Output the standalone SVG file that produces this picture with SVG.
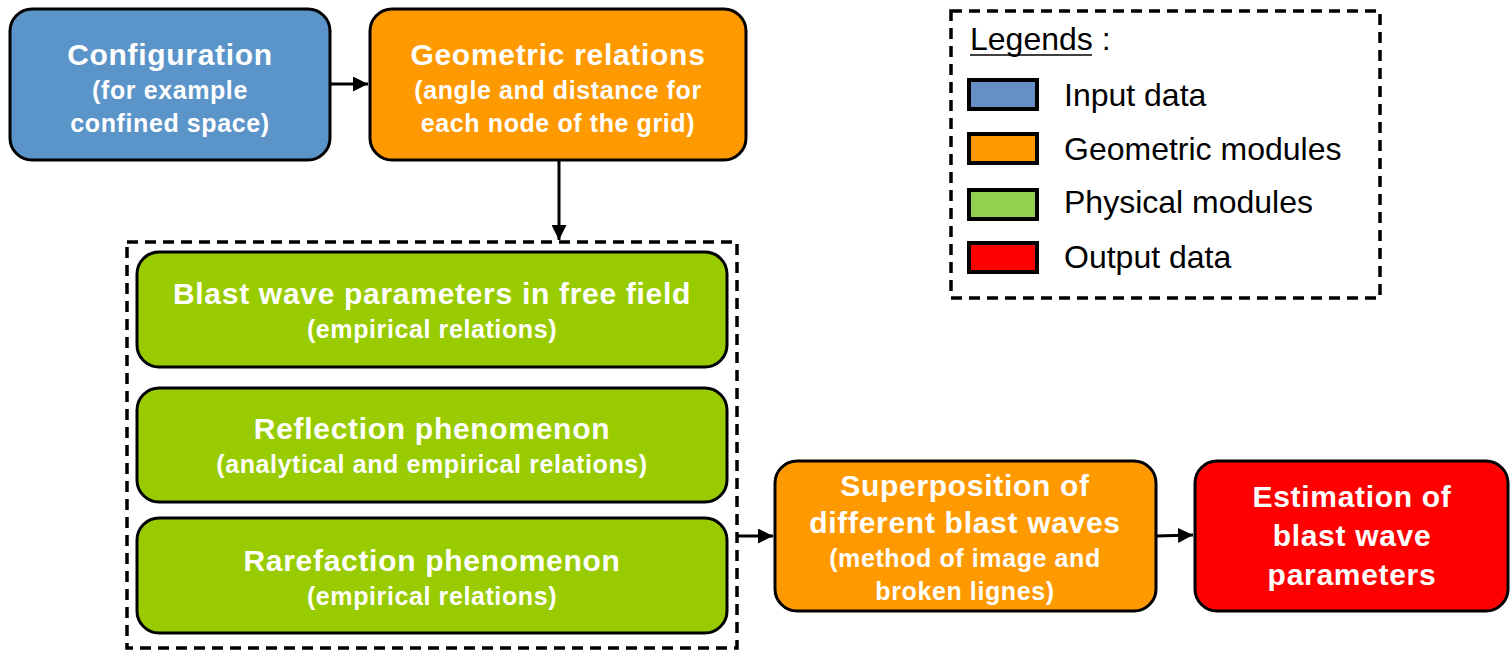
<svg xmlns="http://www.w3.org/2000/svg" width="1510" height="651" viewBox="0 0 1510 651">
<defs>
<marker id="arr" viewBox="0 0 10 10" refX="10" refY="5" markerWidth="5" markerHeight="5" orient="auto" markerUnits="strokeWidth">
<path d="M0,0 L10,5 L0,10 z" fill="#000"/>
</marker>
<style>
.box{stroke:#000;stroke-width:3}
.blue{fill:#5B94C8}
.orange{fill:#FF9900}
.green{fill:#99CC00}
.red{fill:#FF0000}
.t{font-family:"Liberation Sans",Arial,sans-serif;font-weight:bold;fill:#fff;text-anchor:middle;font-size:30px;letter-spacing:0.7px}
.s{font-family:"Liberation Sans",Arial,sans-serif;font-weight:bold;fill:#fff;text-anchor:middle;font-size:25px;letter-spacing:0.6px}
.lg{font-family:"Liberation Sans",Arial,sans-serif;fill:#000;font-size:32px}
.dash{fill:none;stroke:#000;stroke-width:3.5;stroke-dasharray:11 7}
.conn{stroke:#000;stroke-width:3;fill:none}
.sw{stroke:#000;stroke-width:4}
</style>
</defs>

<g id="connectors">
<line class="conn" x1="331" y1="84" x2="368" y2="84" marker-end="url(#arr)"/>
<line class="conn" x1="559" y1="160" x2="559" y2="240" marker-end="url(#arr)"/>
<line class="conn" x1="738" y1="536" x2="773" y2="536" marker-end="url(#arr)"/>
<line class="conn" x1="1156" y1="536" x2="1193" y2="535" marker-end="url(#arr)"/>
</g>

<g id="container">
<rect class="dash" x="127" y="242" width="610" height="406"/>
</g>

<g id="configuration">
<rect class="box blue" x="10" y="9" width="320" height="151" rx="22"/>
<text class="t" x="170" y="65">Configuration</text>
<text class="s" x="170" y="99">(for example</text>
<text class="s" x="170" y="132">confined space)</text>
</g>

<g id="geometric">
<rect class="box orange" x="370" y="9" width="376" height="151" rx="22"/>
<text class="t" x="558" y="65">Geometric relations</text>
<text class="s" x="558" y="99">(angle and distance for</text>
<text class="s" x="558" y="132">each node of the grid)</text>
</g>

<g id="blast">
<rect class="box green" x="137" y="252" width="590" height="115" rx="22"/>
<text class="t" x="432" y="304">Blast wave parameters in free field</text>
<text class="s" x="432" y="338">(empirical relations)</text>
</g>

<g id="reflection">
<rect class="box green" x="137" y="388" width="590" height="114" rx="22"/>
<text class="t" x="432" y="439">Reflection phenomenon</text>
<text class="s" x="432" y="473">(analytical and empirical relations)</text>
</g>

<g id="rarefaction">
<rect class="box green" x="137" y="518" width="590" height="115" rx="22"/>
<text class="t" x="432" y="571">Rarefaction phenomenon</text>
<text class="s" x="432" y="605">(empirical relations)</text>
</g>

<g id="superposition">
<rect class="box orange" x="775" y="461" width="381" height="150" rx="22"/>
<text class="t" x="965" y="496">Superposition of</text>
<text class="t" x="965" y="533">different blast waves</text>
<text class="s" x="965" y="567">(method of image and</text>
<text class="s" x="965" y="600">broken lignes)</text>
</g>

<g id="estimation">
<rect class="box red" x="1195" y="461" width="313" height="150" rx="22"/>
<text class="t" x="1352" y="507">Estimation of</text>
<text class="t" x="1352" y="546">blast wave</text>
<text class="t" x="1352" y="585">parameters</text>
</g>

<g id="legend">
<rect class="dash" x="951" y="11" width="429" height="287"/>
<text class="lg" x="970" y="50">Legends :</text>
<line x1="970" y1="55" x2="1092" y2="55" stroke="#000" stroke-width="1.5"/>
<rect class="sw" x="969" y="80" width="68" height="29" fill="#658FC6"/>
<text class="lg" x="1064" y="106">Input data</text>
<rect class="sw" x="969" y="134" width="68" height="29" fill="#FF9900"/>
<text class="lg" x="1064" y="160">Geometric modules</text>
<rect class="sw" x="969" y="190" width="68" height="29" fill="#92D050"/>
<text class="lg" x="1064" y="213">Physical modules</text>
<rect class="sw" x="969" y="243" width="68" height="29" fill="#FF0000"/>
<text class="lg" x="1064" y="268">Output data</text>
</g>
</svg>
